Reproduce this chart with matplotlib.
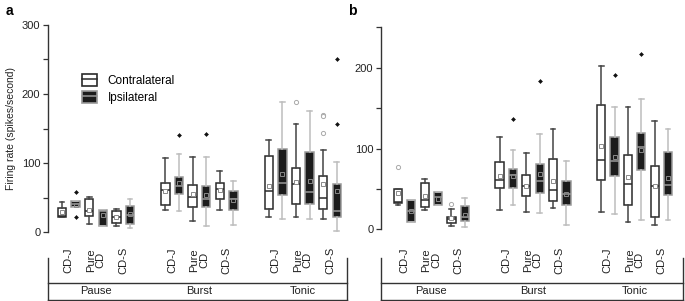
import numpy as np
import matplotlib
matplotlib.use('Agg')
import matplotlib.pyplot as plt
from matplotlib.patches import Patch
from matplotlib.lines import Line2D
from matplotlib.legend_handler import HandlerTuple

plt.rcParams['font.family'] = ['Liberation Sans', 'DejaVu Sans']

behaviours = ['Pause', 'Burst', 'Tonic']
regions = ['CD-J', 'Pure\nCD', 'CD-S']
# box order inside each behaviour: CD-J contra, CD-J ipsi, Pure contra, Pure ipsi, CD-S contra, CD-S ipsi

# panel a (all neurons)
a_lo = [22, 36.5, 12, 9, 9, 6,
        33, 31, 17, 9, 33, 10,
        21.7, 18.8, 21.7, 20, 18.8, 2.4]
a_q1 = [22.5, 36.5, 23.5, 9, 13, 11.5,
        39, 55, 37, 36, 47.7, 32,
        33.7, 54, 41.3, 41, 34, 22.5]
a_med = [23, 41, 31, 31, 21.7, 25,
         61, 67, 50.6, 47.7, 62, 48.6,
         59.7, 70.8, 70, 58, 49, 30.3]
a_q3 = [35.5, 45, 48, 32, 31, 37.5,
        72, 80, 68, 67.4, 72, 60,
        110.7, 120.8, 93, 115.6, 81, 69.8]
a_hi = [44, 45, 51.5, 32, 34, 48.6,
        108, 113.6, 109, 109, 89, 74.6,
        133, 188.7, 156, 176, 119.4, 101.6]
a_mean = [30, 40, 33, 25, 22, 27,
          59.7, 71, 55, 54, 61, 46.7,
          67.4, 84.7, 73, 74.6, 70, 60]
a_out = [[], [58.7, 22], [], [], [], [],
         [], [141], [], [142.5], [], [],
         [], [], [188], [], [170, 168, 144], [250, 157]]

# panel b
b_lo = [30.5, 9.4, 24, 30.5, 3.7, 3.2,
        23.9, 30.5, 22, 19.8, 26.4, 5.3,
        21.8, 19, 9.4, 11.5, 5, 11.5]
b_q1 = [33, 9.4, 28, 30.5, 7.8, 10.6,
        50.7, 51.5, 41, 45, 34.6, 30,
        60.6, 66.2, 30.5, 73.8, 14.8, 42]
b_med = [34, 22.6, 36, 39.6, 12.4, 14.8,
         61, 67, 53.6, 60, 48.6, 43.7,
         85.8, 84.2, 56, 102, 53.6, 54.5]
b_q3 = [49.5, 36, 57, 46, 15.6, 28.5,
        83, 74.6, 67, 80.4, 87, 59.8,
        153.5, 114.6, 92.3, 119.3, 78.7, 95.7]
b_hi = [49.5, 36, 62, 46, 25.5, 38.7,
        114.6, 98, 94, 117.6, 123.8, 84.5,
        202.5, 151, 151, 161.6, 134.4, 123.8]
b_mean = [45, 22.6, 41.6, 38, 13.6, 18,
          65.6, 66, 54, 68.4, 60, 43.7,
          102.7, 89.9, 65, 98, 53.6, 63.9]
b_out = [[77.5], [], [], [], [31], [],
         [], [137], [], [183.5], [], [],
         [], [191.3], [], [217], [], []]

DARK = '#2a2a2a'
GREY = '#9a9a9a'
LIGHT = '#bdbdbd'

group_gap = 7.6
positions = [g * group_gap + i for g in range(3) for i in range(6)]


def make_stats(lo, q1, med, q3, hi, mean, out):
    return [dict(whislo=lo[k], q1=q1[k], med=med[k], q3=q3[k], whishi=hi[k],
                 mean=mean[k], fliers=out[k]) for k in range(len(lo))]


def draw_panel(ax, stats, ylim, yticks):
    contra = [s for k, s in enumerate(stats) if k % 2 == 0]
    ipsi = [s for k, s in enumerate(stats) if k % 2 == 1]
    pc = [p for k, p in enumerate(positions) if k % 2 == 0]
    pi = [p for k, p in enumerate(positions) if k % 2 == 1]
    ax.bxp(contra, positions=pc, widths=0.62, capwidths=0.36, patch_artist=True,
           showmeans=True, manage_ticks=False,
           boxprops=dict(facecolor='white', edgecolor=DARK, linewidth=1.1),
           whiskerprops=dict(color='#444444', linewidth=1.1),
           capprops=dict(color='#444444', linewidth=1.1),
           medianprops=dict(color=DARK, linewidth=1.1),
           meanprops=dict(marker='s', markersize=3, markerfacecolor='white',
                          markeredgecolor='#8a8a8a', markeredgewidth=0.7),
           flierprops=dict(marker='o', markersize=3, markerfacecolor='white',
                           markeredgecolor='#aaaaaa', markeredgewidth=0.7))
    ax.bxp(ipsi, positions=pi, widths=0.62, capwidths=0.36, patch_artist=True,
           showmeans=True, manage_ticks=False,
           boxprops=dict(facecolor='#1c1c1c', edgecolor=GREY, linewidth=1.1),
           whiskerprops=dict(color=LIGHT, linewidth=1.1),
           capprops=dict(color=LIGHT, linewidth=1.1),
           medianprops=dict(color=GREY, linewidth=1.1),
           meanprops=dict(marker='s', markersize=3, markerfacecolor='none',
                          markeredgecolor='#8a8a8a', markeredgewidth=0.7),
           flierprops=dict(marker='D', markersize=2.0, markerfacecolor='#111111',
                           markeredgecolor='#111111', markeredgewidth=0.4))
    ax.set_ylim(*ylim)
    ax.set_yticks(yticks)
    ax.set_yticks(np.arange(50, ylim[1] + 1, 100), minor=True)
    for side in ['top', 'right', 'bottom']:
        ax.spines[side].set_visible(False)
    ax.spines['left'].set_color('#333333')
    ax.spines['left'].set_linewidth(1.0)
    ax.set_xticks([])
    ax.tick_params(axis='y', which='both', direction='out', length=3.5, width=0.9,
                   color='#333333', labelsize=8, labelcolor='#222222', pad=2)


def draw_categories(bax, xlim):
    bax.set_xlim(*xlim)
    bax.set_ylim(301, 245)
    bax.axis('off')
    kw = dict(color='#333333', linewidth=1.0, clip_on=False)
    bax.plot([xlim[0], xlim[0]], [258, 301], **kw)
    bax.plot([xlim[1], xlim[1]], [258, 301], **kw)
    bax.plot(xlim, [283, 283], **kw)
    bax.plot(xlim, [299.5, 299.5], **kw)
    for g, name in enumerate(behaviours):
        base = g * group_gap
        for r, reg in enumerate(regions):
            bax.text(base + 2 * r + 0.5, 260, reg, rotation=90, ha='center', va='center',
                     fontsize=8, color='#222222', multialignment='center', linespacing=0.95)
        bax.text(base + 2.5, 291, name, ha='center', va='center', fontsize=8, color='#222222')


fig = plt.figure(figsize=(6.85, 3.01), dpi=100)

xa = (-1.03, 20.95)
xb = (-1.27, 21.32)
ax_a = fig.add_axes([48 / 685, 0.228, 299 / 685, 0.690])
ax_b = fig.add_axes([381 / 685, 0.238, 302 / 685, 0.671])

draw_panel(ax_a, make_stats(a_lo, a_q1, a_med, a_q3, a_hi, a_mean, a_out), (0, 300), [0, 100, 200, 300])
draw_panel(ax_b, make_stats(b_lo, b_q1, b_med, b_q3, b_hi, b_mean, b_out), (0, 250), [0, 100, 200])
ax_a.set_xlim(*xa)
ax_b.set_xlim(*xb)
ax_a.set_ylabel('Firing rate (spikes/second)', fontsize=7.5, color='#222222', labelpad=4)

bax_a = fig.add_axes([48 / 685, 0.0, 299 / 685, 56 / 301])
bax_b = fig.add_axes([381 / 685, 0.0, 302 / 685, 56 / 301])
draw_categories(bax_a, xa)
draw_categories(bax_b, xb)

h_contra = (Patch(facecolor='white', edgecolor=DARK, linewidth=1.2), Line2D([], [], color=DARK, linewidth=1.1))
h_ipsi = (Patch(facecolor='#1c1c1c', edgecolor=GREY, linewidth=1.2), Line2D([], [], color=GREY, linewidth=1.1))
ax_a.legend([h_contra, h_ipsi], ['Contralateral', 'Ipsilateral'],
            handler_map={tuple: HandlerTuple(ndivide=1)},
            loc='upper left', bbox_to_anchor=(0.085, 0.80), frameon=False,
            fontsize=8.5, handlelength=1.3, handleheight=1.1, handletextpad=0.9,
            labelspacing=0.35, borderpad=0.2)

fig.text(0.008, 0.965, 'a', fontsize=10, fontweight='bold', ha='left', va='center')
fig.text(0.508, 0.965, 'b', fontsize=10, fontweight='bold', ha='left', va='center')

fig.savefig('out.png', dpi=100)
